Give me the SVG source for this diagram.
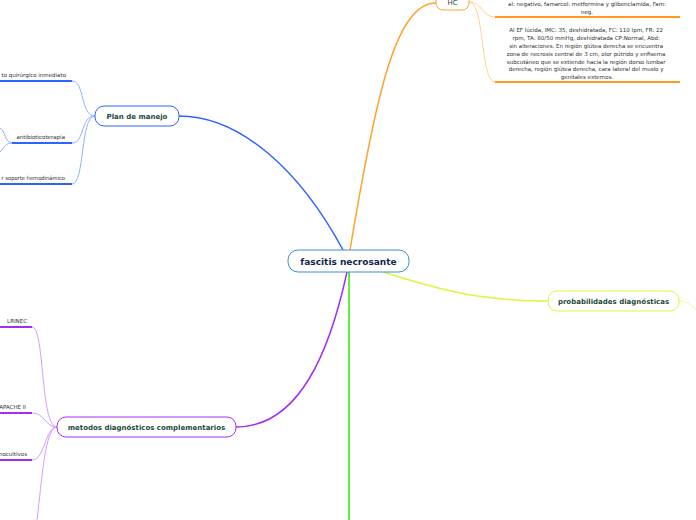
<svg xmlns="http://www.w3.org/2000/svg" width="696" height="520" viewBox="0 0 696 520">
<style>
.t{font-family:"DejaVu Sans","Verdana",sans-serif;}
.title{font-size:7px;font-weight:bold;fill:#1d4a3a;text-anchor:middle;}
.small{font-size:5.5px;fill:#2e2e2e;}
.c{fill:none;}
</style>
<rect width="696" height="520" fill="#fff"/>
<g id="connectors">
  <path class="c" d="M343,250 C300,170 240,116 179,116" stroke="#2f63ff" stroke-width="1.5"/>
  <path class="c" d="M350,250 C375,100 395,3 436,3" stroke="#ffa22e" stroke-width="1.5"/>
  <path class="c" d="M349,272 L349,520" stroke="#5ef23c" stroke-width="2"/>
  <path class="c" d="M347,272 C330,350 300,427 236,427" stroke="#a42ef0" stroke-width="1.5"/>
  <path class="c" d="M383,272 C440,290 480,301 548,301" stroke="#ddf53c" stroke-width="1.5"/>
  <path class="c" d="M679,301 C688,301 690,305 696,309" stroke="#eefa9e" stroke-width="1"/>
  <path class="c" d="M469,2 C482,2 482,17 495,17" stroke="#ffd290" stroke-width="1"/>
  <path class="c" d="M469,2 C485,2 480,82 495,82" stroke="#ffd290" stroke-width="1"/>
  <path class="c" d="M95,116 C80,116 85,81 72,81" stroke="#8fb0ff" stroke-width="1"/>
  <path class="c" d="M95,116 C80,116 85,143 72,143" stroke="#8fb0ff" stroke-width="1"/>
  <path class="c" d="M95,116 C80,116 85,184 72,184" stroke="#8fb0ff" stroke-width="1"/>
  <path class="c" d="M12,143 C5,143 5,130 0,128" stroke="#8fb0ff" stroke-width="1"/>
  <path class="c" d="M12,143 C5,143 4,148 0,152" stroke="#8fb0ff" stroke-width="1"/>
  <path class="c" d="M57,427 C40,427 45,327 32,327" stroke="#d59cff" stroke-width="1"/>
  <path class="c" d="M57,427 C45,427 45,413 32,413" stroke="#d59cff" stroke-width="1"/>
  <path class="c" d="M57,427 C45,427 45,460 32,460" stroke="#d59cff" stroke-width="1"/>
  <path class="c" d="M57,427 C45,427 42,480 37,520" stroke="#d59cff" stroke-width="1"/>
</g>
<g id="central">
  <rect x="288" y="250" width="121" height="22" rx="10" fill="#fff" stroke="#3d8fd6" stroke-width="1"/>
  <text class="t" x="348.5" y="264.5" font-size="9" font-weight="bold" fill="#14264a" text-anchor="middle">fascitis necrosante</text>
</g>
<g id="plan">
  <rect x="95" y="106" width="84" height="20" rx="9" fill="#fff" stroke="#2f63ff" stroke-width="1"/>
  <text class="t title" x="137" y="118.5">Plan de manejo</text>
</g>
<g id="plan-c1">
  <line x1="0" y1="81" x2="72" y2="81" stroke="#2f63ff" stroke-width="2"/>
  <text class="t small" x="66" y="77" text-anchor="end">to quirúrgico inmediato</text>
</g>
<g id="plan-c2">
  <line x1="12" y1="143" x2="72" y2="143" stroke="#2f63ff" stroke-width="2"/>
  <text class="t small" x="65" y="139" text-anchor="end">antibioticoterapia</text>
</g>
<g id="plan-c3">
  <line x1="0" y1="184" x2="72" y2="184" stroke="#2f63ff" stroke-width="2"/>
  <text class="t small" x="1.5" y="180" textLength="63.5" lengthAdjust="spacingAndGlyphs">r soporte hemodinámico</text>
</g>
<g id="hc">
  <rect x="436" y="-10" width="33" height="20" rx="7" fill="#fff" stroke="#ffa22e" stroke-width="1"/>
  <text class="t" x="452.5" y="5" font-size="7" fill="#1d4a3a" text-anchor="middle">HC</text>
</g>
<g id="hc-c1">
  <line x1="495" y1="17" x2="680" y2="17" stroke="#ff9a1a" stroke-width="2"/>
  <text class="t small" text-anchor="middle"><tspan x="587" y="6">al: negativo, famarcol: metformina y glibenclamida, Fam:</tspan><tspan x="587" y="14">neg.</tspan></text>
</g>
<g id="hc-c2">
  <line x1="495" y1="82" x2="680" y2="82" stroke="#ff9a1a" stroke-width="2"/>
  <text class="t small" text-anchor="middle">
    <tspan x="587" y="32">Al EF lúcida, IMC: 35, deshidratada, FC: 110 lpm, FR: 22</tspan>
    <tspan x="587" y="40">rpm, TA: 80/50 mmHg, deshidratada CP:Normal, Abd:</tspan>
    <tspan x="587" y="48">sin alteraciones. En región glútea derecha se encuentra</tspan>
    <tspan x="587" y="56">zona de necrosis central de 3 cm, olor pútrido y enfisema</tspan>
    <tspan x="587" y="63.5">subcutáneo que se extiende hacia la región dorso lumbar</tspan>
    <tspan x="587" y="71">derecha, región glútea derecha, cara lateral del muslo y</tspan>
    <tspan x="587" y="78.5">genitales externos.</tspan>
  </text>
</g>
<g id="probabilidades">
  <rect x="548" y="291" width="131" height="20" rx="9" fill="#fff" stroke="#ddf53c" stroke-width="1"/>
  <text class="t title" x="613.5" y="303.5">probabilidades diagnósticas</text>
</g>
<g id="metodos">
  <rect x="57" y="417" width="179" height="20" rx="9" fill="#fff" stroke="#a42ef0" stroke-width="1"/>
  <text class="t title" x="146.5" y="429.5">metodos diagnósticos complementarios</text>
</g>
<g id="met-c1">
  <line x1="0" y1="327" x2="32" y2="327" stroke="#a42ef0" stroke-width="2"/>
  <text class="t small" x="27" y="323" text-anchor="end">LRINEC</text>
</g>
<g id="met-c2">
  <line x1="0" y1="413" x2="32" y2="413" stroke="#a42ef0" stroke-width="2"/>
  <text class="t small" x="26" y="409" text-anchor="end">APACHE II</text>
</g>
<g id="met-c3">
  <line x1="0" y1="460" x2="32" y2="460" stroke="#a42ef0" stroke-width="2"/>
  <text class="t small" x="27" y="456" text-anchor="end">nocultivos</text>
</g>
</svg>
